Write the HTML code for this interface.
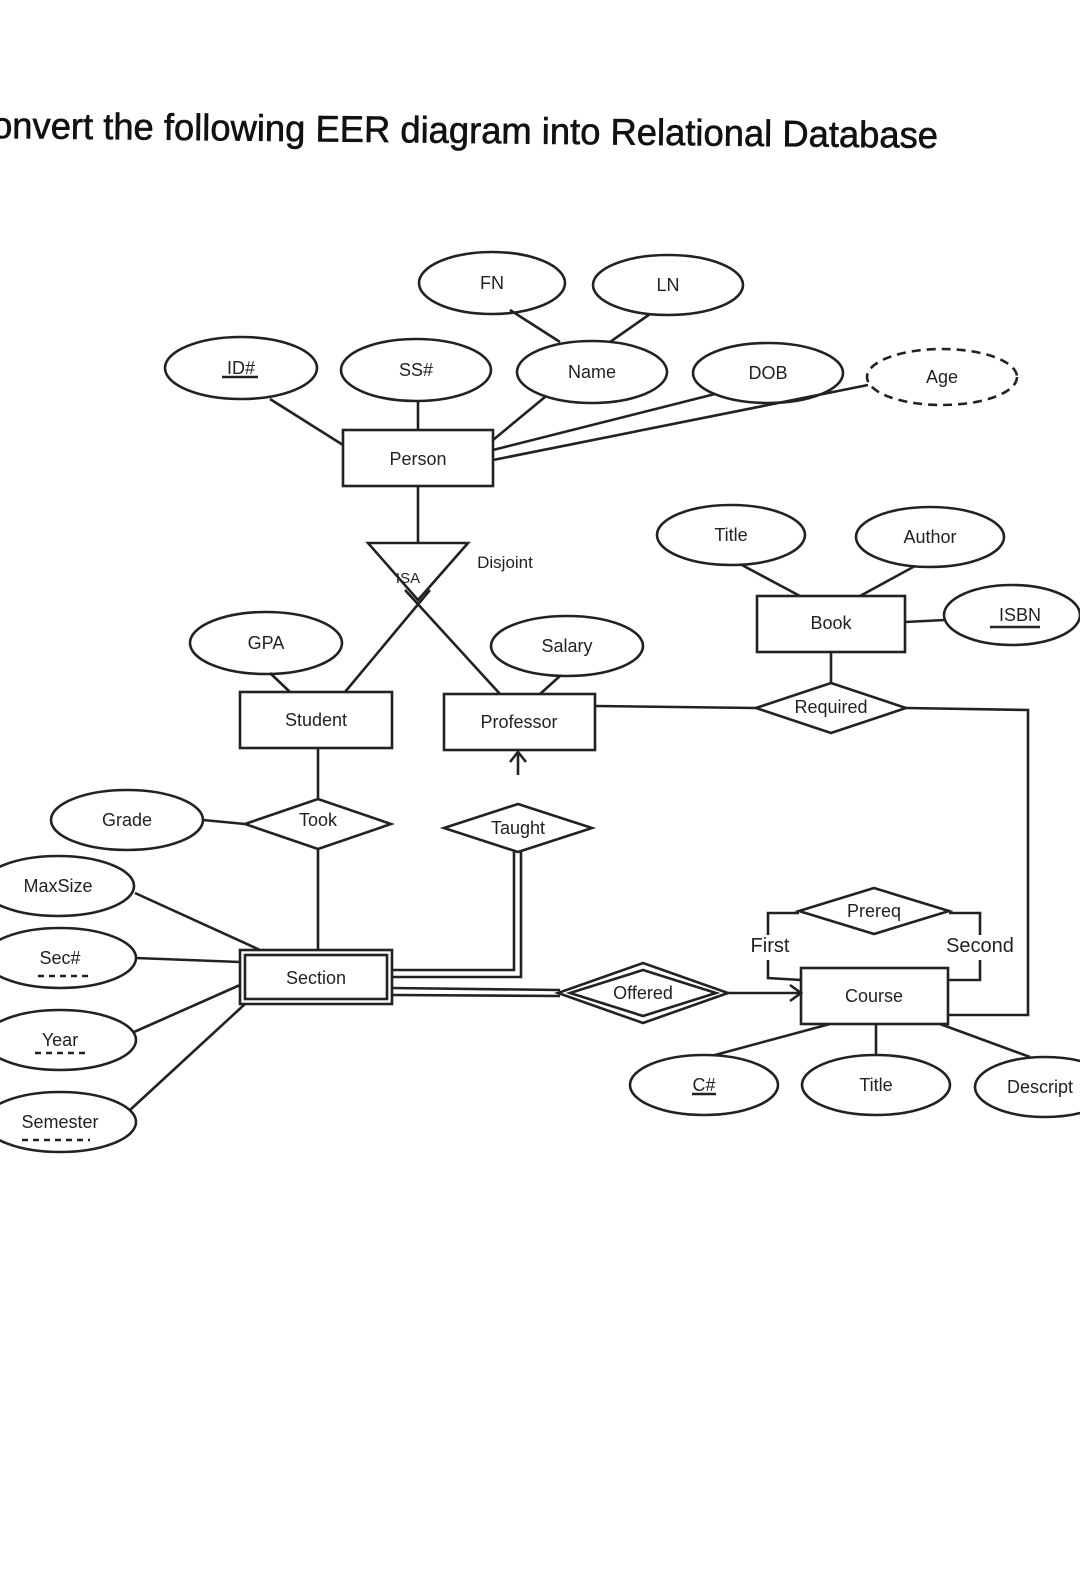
<!DOCTYPE html>
<html><head><meta charset="utf-8"><style>
html,body{margin:0;padding:0;background:#fff;}
svg{display:block;}
text{font-family:"Liberation Sans",sans-serif;fill:#222;}
</style></head><body>
<svg width="1080" height="1580" viewBox="0 0 1080 1580" xmlns="http://www.w3.org/2000/svg">
<text x="-8" y="143" font-size="37" transform="rotate(0.6 470 135)" textLength="946" lengthAdjust="spacingAndGlyphs" style="fill:#111;stroke:#111;stroke-width:0.6">onvert the following EER diagram into Relational Database</text>
<g stroke="#222" stroke-width="2.6" fill="none">
<ellipse cx="492" cy="283" rx="73" ry="31"/>
<ellipse cx="668" cy="285" rx="75" ry="30"/>
<ellipse cx="241" cy="368" rx="76" ry="31"/>
<ellipse cx="416" cy="370" rx="75" ry="31"/>
<ellipse cx="592" cy="372" rx="75" ry="31"/>
<ellipse cx="768" cy="373" rx="75" ry="30"/>
<ellipse cx="942" cy="377" rx="75" ry="28" stroke-dasharray="9,6"/>
<ellipse cx="731" cy="535" rx="74" ry="30"/>
<ellipse cx="930" cy="537" rx="74" ry="30"/>
<ellipse cx="1012" cy="615" rx="68" ry="30"/>
<ellipse cx="266" cy="643" rx="76" ry="31"/>
<ellipse cx="567" cy="646" rx="76" ry="30"/>
<ellipse cx="127" cy="820" rx="76" ry="30"/>
<ellipse cx="58" cy="886" rx="76" ry="30"/>
<ellipse cx="60" cy="958" rx="76" ry="30"/>
<ellipse cx="60" cy="1040" rx="76" ry="30"/>
<ellipse cx="60" cy="1122" rx="76" ry="30"/>
<ellipse cx="704" cy="1085" rx="74" ry="30"/>
<ellipse cx="876" cy="1085" rx="74" ry="30"/>
<ellipse cx="1045" cy="1087" rx="70" ry="30"/>
<rect x="343" y="430" width="150" height="56"/>
<rect x="757" y="596" width="148" height="56"/>
<rect x="240" y="692" width="152" height="56"/>
<rect x="444" y="694" width="151" height="56"/>
<rect x="801" y="968" width="147" height="56"/>
<rect x="240" y="950" width="152" height="54"/>
<rect x="245" y="955" width="142" height="44"/>
<polygon points="368,543 468,543 418,600"/>
<polygon points="756,708 831,683 906,708 831,733"/>
<polygon points="245,824 318,799 391,824 318,849"/>
<polygon points="444,828 518,804 592,828 518,852"/>
<polygon points="799,911 874,888 949,911 874,934"/>
<polygon points="558,993 643,963 728,993 643,1023"/>
<polygon points="570,993 643,970 716,993 643,1016"/>
<line x1="270" y1="399" x2="343" y2="445"/>
<line x1="418" y1="401" x2="418" y2="430"/>
<line x1="510" y1="310" x2="560" y2="342"/>
<line x1="650" y1="314" x2="610" y2="342"/>
<line x1="545" y1="397" x2="493" y2="440"/>
<line x1="715" y1="394" x2="493" y2="450"/>
<line x1="868" y1="385" x2="493" y2="460"/>
<line x1="418" y1="486" x2="418" y2="543"/>
<line x1="430" y1="590" x2="345" y2="692"/>
<line x1="405" y1="590" x2="500" y2="694"/>
<line x1="740" y1="564" x2="800" y2="596"/>
<line x1="915" y1="566" x2="860" y2="596"/>
<line x1="905" y1="622" x2="945" y2="620"/>
<line x1="831" y1="652" x2="831" y2="683"/>
<line x1="595" y1="706" x2="756" y2="708"/>
<polyline points="906,708 1028,710 1028,1015 948,1015"/>
<line x1="270" y1="673" x2="290" y2="692"/>
<line x1="560" y1="676" x2="540" y2="694"/>
<line x1="318" y1="748" x2="318" y2="799"/>
<line x1="318" y1="849" x2="318" y2="950"/>
<line x1="203" y1="820" x2="245" y2="824"/>
<line x1="518" y1="752" x2="518" y2="775"/>
<polyline points="510,762 518,752 526,762"/>
<polyline points="514,852 514,970 392,970"/>
<polyline points="521,852 521,977 392,977"/>
<line x1="392" y1="988" x2="560" y2="990"/>
<line x1="392" y1="995" x2="560" y2="996"/>
<line x1="728" y1="993" x2="801" y2="993"/>
<polyline points="790,985 801,993 790,1001"/>
<line x1="135" y1="893" x2="260" y2="950"/>
<line x1="136" y1="958" x2="240" y2="962"/>
<line x1="134" y1="1032" x2="240" y2="985"/>
<line x1="130" y1="1110" x2="245" y2="1004"/>
<polyline points="799,913 768,913 768,935"/>
<polyline points="768,960 768,978 801,980"/>
<polyline points="949,913 980,913 980,935"/>
<polyline points="980,960 980,980 948,980"/>
<line x1="830" y1="1024" x2="715" y2="1055"/>
<line x1="876" y1="1024" x2="876" y2="1055"/>
<line x1="940" y1="1024" x2="1030" y2="1057"/>
<line x1="222" y1="377" x2="258" y2="377"/>
<line x1="38" y1="976" x2="90" y2="976" stroke-dasharray="6,5"/>
<line x1="35" y1="1053" x2="88" y2="1053" stroke-dasharray="6,5"/>
<line x1="22" y1="1140" x2="90" y2="1140" stroke-dasharray="6,5"/>
<line x1="692" y1="1094" x2="716" y2="1094"/>
<line x1="990" y1="627" x2="1040" y2="627"/>
</g>
<g font-size="18" text-anchor="middle">
<text x="492" y="289">FN</text>
<text x="668" y="291">LN</text>
<text x="241" y="374">ID#</text>
<text x="416" y="376">SS#</text>
<text x="592" y="378">Name</text>
<text x="768" y="379">DOB</text>
<text x="942" y="383">Age</text>
<text x="418" y="465">Person</text>
<text x="408" y="583" font-size="15">ISA</text>
<text x="505" y="568" font-size="17">Disjoint</text>
<text x="731" y="541">Title</text>
<text x="930" y="543">Author</text>
<text x="1020" y="621">ISBN</text>
<text x="831" y="629">Book</text>
<text x="266" y="649">GPA</text>
<text x="567" y="652">Salary</text>
<text x="316" y="726">Student</text>
<text x="519" y="728">Professor</text>
<text x="831" y="713">Required</text>
<text x="127" y="826">Grade</text>
<text x="318" y="826">Took</text>
<text x="518" y="834">Taught</text>
<text x="58" y="892">MaxSize</text>
<text x="60" y="964">Sec#</text>
<text x="60" y="1046">Year</text>
<text x="60" y="1128">Semester</text>
<text x="316" y="984">Section</text>
<text x="643" y="999">Offered</text>
<text x="874" y="917">Prereq</text>
<text x="874" y="1002">Course</text>
<text x="770" y="952" font-size="20">First</text>
<text x="980" y="952" font-size="20">Second</text>
<text x="704" y="1091">C#</text>
<text x="876" y="1091">Title</text>
<text x="1040" y="1093">Descript</text>
</g>
</svg>
</body></html>
